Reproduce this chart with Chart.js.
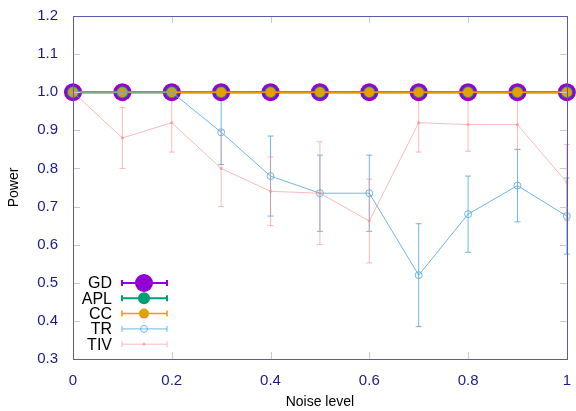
<!DOCTYPE html>
<html>
<head>
<meta charset="utf-8">
<script src="https://cdn.jsdelivr.net/npm/chart.js@4/dist/chart.umd.min.js"></script>
<style>
  html, body { margin: 0; padding: 0; background: #fff; }
  #wrap { width: 576px; height: 411px; position: relative; }
</style>
</head>
<body>
<div id="wrap"><canvas id="powerChart" width="576" height="411"></canvas></div>
<script>
const noiseLevels = [0, 0.1, 0.2, 0.3, 0.4, 0.5, 0.6, 0.7, 0.8, 0.9, 1.0];
const gdPower  = [1, 1, 1, 1, 1, 1, 1, 1, 1, 1, 1];
const aplPower = [1, 1, 1, 1, 1, 1, 1, 1, 1, 1, 1];
const ccPower  = [1, 1, 1, 1, 1, 1, 1, 1, 1, 1, 1];
const trPower  = [1.0, 1.0, 1.0, 0.895, 0.78, 0.735, 0.735, 0.52, 0.68, 0.755, 0.675];
const trErr    = [0, 0, 0, 0.085, 0.105, 0.10, 0.10, 0.135, 0.10, 0.095, 0.10];
const tivPower = [1.0, 0.88, 0.92, 0.80, 0.74, 0.735, 0.662, 0.92, 0.915, 0.915, 0.763];
const tivErr   = [0, 0.08, 0.077, 0.10, 0.09, 0.135, 0.11, 0.077, 0.07, 0.065, 0.10];
const yTicks = [0.3, 0.4, 0.5, 0.6, 0.7, 0.8, 0.9, 1.0, 1.1, 1.2];
const xTicks = [0, 0.2, 0.4, 0.6, 0.8, 1];

const FONT = '"Liberation Sans", Arial, sans-serif';
const tickColor = '#1c1c84';
const borderColor = '#5a5aa8';

function pts(ys) {
    return noiseLevels.map((x, i) => ({ x: x, y: ys[i] }));
}

const series = [
    { label: 'GD',  data: gdPower,  err: null,    color: '#9400d3', radius: 9,   width: 2, fill: true },
    { label: 'APL', data: aplPower, err: null,    color: '#009e73', radius: 6,   width: 2, fill: true },
    { label: 'CC',  data: ccPower,  err: null,    color: '#e69f00', radius: 5,   width: 1.5, fill: true },
    { label: 'TR',  data: trPower,  err: trErr,   color: 'rgba(86,170,225,0.85)', radius: 3.5, width: 1, fill: false },
    { label: 'TIV', data: tivPower, err: tivErr,  color: 'rgba(245,140,140,0.6)', radius: 1.6, width: 1, fill: true }
];

// error bars drawn below the markers
const errorBarPlugin = {
    id: 'errorBars',
    beforeDatasetsDraw(chart) {
        const ctx = chart.ctx;
        const xs = chart.scales.x, ys = chart.scales.y;
        ctx.save();
        series.forEach(s => {
            if (!s.err) return;
            ctx.strokeStyle = s.color;
            ctx.lineWidth = 1;
            noiseLevels.forEach((x, i) => {
                const e = s.err[i];
                if (!e) return;
                const px = xs.getPixelForValue(x);
                const top = ys.getPixelForValue(s.data[i] + e);
                const bot = ys.getPixelForValue(s.data[i] - e);
                ctx.beginPath();
                ctx.moveTo(px, top); ctx.lineTo(px, bot);
                ctx.moveTo(px - 3, top); ctx.lineTo(px + 3, top);
                ctx.moveTo(px - 3, bot); ctx.lineTo(px + 3, bot);
                ctx.stroke();
            });
        });
        ctx.restore();
    }
};

// gnuplot-like inward ticks on all four sides + border
const frameTicksPlugin = {
    id: 'frameTicks',
    afterDraw(chart) {
        const ctx = chart.ctx;
        const a = chart.chartArea;
        const xs = chart.scales.x, ys = chart.scales.y;
        ctx.save();
        ctx.strokeStyle = '#c8c8e4';
        ctx.lineWidth = 1;
        ctx.beginPath();
        yTicks.forEach(v => {
            const py = Math.round(ys.getPixelForValue(v)) + 0.5;
            ctx.moveTo(a.left, py); ctx.lineTo(a.left + 7, py);
            ctx.moveTo(a.right, py); ctx.lineTo(a.right - 7, py);
        });
        xTicks.forEach(v => {
            const px = Math.round(xs.getPixelForValue(v)) + 0.5;
            ctx.moveTo(px, a.bottom); ctx.lineTo(px, a.bottom - 7);
            ctx.moveTo(px, a.top); ctx.lineTo(px, a.top + 7);
        });
        ctx.stroke();
        ctx.strokeStyle = borderColor;
        ctx.strokeRect(Math.round(a.left) + 0.5, Math.round(a.top) + 0.5,
            Math.round(a.right - a.left), Math.round(a.bottom - a.top));
        ctx.restore();
    }
};

// legend in the lower-left corner, with error-bar samples
const legendPlugin = {
    id: 'gpLegend',
    afterDraw(chart) {
        const ctx = chart.ctx;
        ctx.save();
        ctx.font = '16px ' + FONT;
        ctx.textAlign = 'right';
        ctx.textBaseline = 'middle';
        series.forEach((s, i) => {
            const y = 283 + i * 15.3;
            ctx.fillStyle = '#000';
            ctx.fillText(s.label, 112, y + 1);
            ctx.strokeStyle = s.color;
            ctx.lineWidth = s.width;
            ctx.beginPath();
            ctx.moveTo(122, y); ctx.lineTo(167, y);
            ctx.moveTo(122, y - 3); ctx.lineTo(122, y + 3);
            ctx.moveTo(167, y - 3); ctx.lineTo(167, y + 3);
            ctx.stroke();
            ctx.beginPath();
            ctx.arc(144, y, s.radius, 0, Math.PI * 2);
            if (s.fill) { ctx.fillStyle = s.color; ctx.fill(); }
            else { ctx.lineWidth = 1; ctx.stroke(); }
        });
        ctx.restore();
    }
};

const datasets = series.map((s, i) => ({
    label: s.label,
    data: pts(s.data),
    borderColor: s.color,
    backgroundColor: s.fill ? s.color : 'rgba(0,0,0,0)',
    borderWidth: s.width,
    pointRadius: s.radius,
    pointBorderWidth: s.fill ? 0 : 1,
    pointBorderColor: s.color,
    pointBackgroundColor: s.fill ? s.color : 'rgba(0,0,0,0)',
    tension: 0,
    clip: false,
    order: series.length - i
}));

new Chart(document.getElementById('powerChart'), {
    type: 'line',
    data: { datasets: datasets },
    options: {
        responsive: false,
        animation: false,
        events: [],
        layout: { padding: { top: 16, right: 7, left: 0, bottom: 0 } },
        plugins: { legend: { display: false }, tooltip: { enabled: false } },
        scales: {
            x: {
                type: 'linear',
                min: 0, max: 1,
                afterFit: s => { s.height = 52; },
                afterBuildTicks: s => { s.ticks = xTicks.map(v => ({ value: v })); },
                grid: { display: false },
                border: { display: false },
                ticks: {
                    color: tickColor,
                    font: { family: FONT, size: 15 },
                    padding: 5,
                    maxRotation: 0,
                    callback: v => String(v)
                },
                title: {
                    display: true,
                    text: 'Noise level',
                    color: '#000',
                    font: { family: FONT, size: 14 },
                    padding: { top: 0, bottom: 0 }
                }
            },
            y: {
                min: 0.3, max: 1.2,
                afterFit: s => { s.width = 73; },
                afterBuildTicks: s => { s.ticks = yTicks.map(v => ({ value: v })); },
                grid: { display: false },
                border: { display: false },
                ticks: {
                    color: tickColor,
                    font: { family: FONT, size: 15 },
                    padding: 7,
                    callback: v => v.toFixed(1)
                },
                title: {
                    display: true,
                    text: 'Power',
                    color: '#000',
                    font: { family: FONT, size: 14 },
                    padding: { top: 6, bottom: 0 }
                }
            }
        }
    },
    plugins: [errorBarPlugin, frameTicksPlugin, legendPlugin]
});
</script>
</body>
</html>
